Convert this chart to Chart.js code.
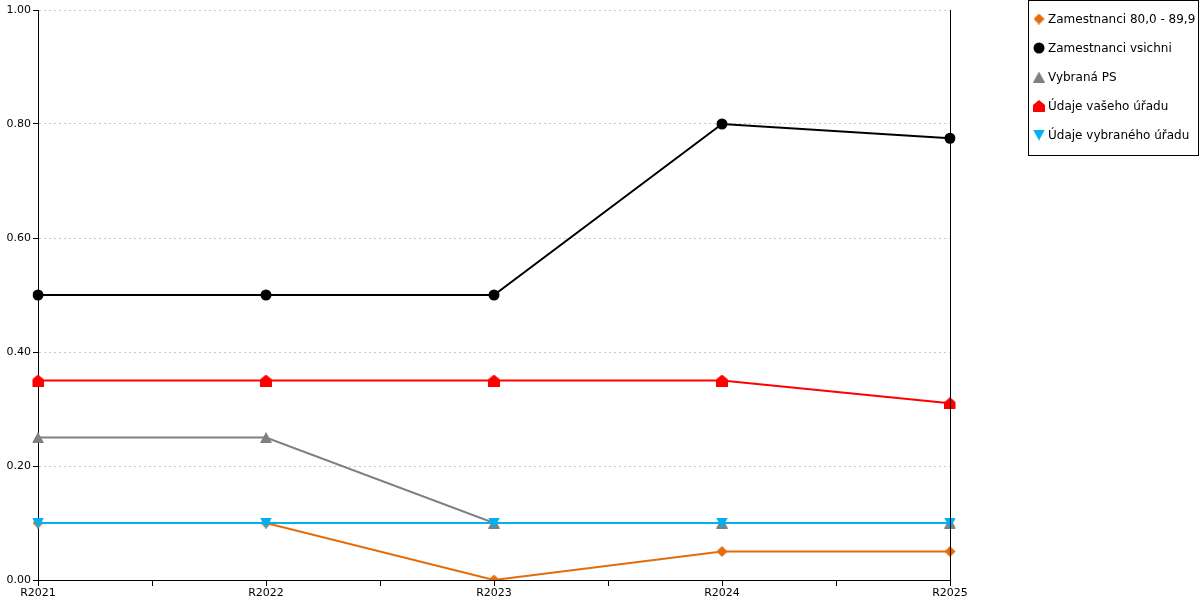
<!DOCTYPE html>
<html>
<head>
<meta charset="utf-8">
<script src="https://cdn.jsdelivr.net/npm/chart.js@4"></script>
<style>
  html, body { margin: 0; padding: 0; background: #fff; }
  #wrap { width: 1200px; height: 600px; }
</style>
</head>
<body>
<div id="wrap"><canvas id="graf"></canvas></div>
<script>
// data
const roky = ['R2021', 'R2022', 'R2023', 'R2024', 'R2025'];
const zam8090 = [0.10, 0.10, 0.00, 0.05, 0.05];
const zamVsichni = [0.50, 0.50, 0.50, 0.80, 0.775];
const vybranaPS = [0.25, 0.25, 0.10, 0.10, 0.10];
const vasUrad = [0.35, 0.35, 0.35, 0.35, 0.31];
const vybranyUrad = [0.10, 0.10, 0.10, 0.10, 0.10];

const FONT = 'DejaVu Sans';

// marker shapes as small canvases (points given in a w x h box)
function znacka(color, w, h, body) {
    const c = document.createElement('canvas');
    c.width = w; c.height = h;
    const g = c.getContext('2d');
    g.fillStyle = color;
    g.beginPath();
    body.forEach((p, i) => i ? g.lineTo(p[0], p[1]) : g.moveTo(p[0], p[1]));
    g.closePath();
    g.fill();
    return c;
}

const kosoctverec = znacka('#E46C0A', 11, 11, [[5.5, 0], [11, 5.5], [5.5, 11], [0, 5.5]]);
const trojuhelnik = znacka('#808080', 12, 11, [[6, 0], [12, 11], [0, 11]]);
const domecek = znacka('#FF0000', 12, 12, [[6, 0], [12, 5], [12, 12], [0, 12], [0, 5]]);
const dolu = znacka('#00B0F0', 12, 11, [[0, 0], [12, 0], [6, 11]]);

const serie = [
    { label: 'Zamestnanci 80,0 - 89,9', data: zam8090, color: '#E46C0A', style: kosoctverec, order: 5 },
    { label: 'Zamestnanci vsichni', data: zamVsichni, color: '#000000', style: 'circle', order: 4 },
    { label: 'Vybraná PS', data: vybranaPS, color: '#808080', style: trojuhelnik, order: 3 },
    { label: 'Údaje vašeho úřadu', data: vasUrad, color: '#FF0000', style: domecek, order: 2 },
    { label: 'Údaje vybraného úřadu', data: vybranyUrad, color: '#00B0F0', style: dolu, order: 1 }
];

// tick marks on the x axis + right border line
const osyPlugin = {
    id: 'osy',
    afterDatasetsDraw(chart) {
        const ctx = chart.ctx;
        const x = chart.scales.x;
        const a = chart.chartArea;
        ctx.save();
        ctx.strokeStyle = '#000';
        ctx.lineWidth = 1;
        ctx.beginPath();
        for (let i = 0; i < roky.length; i++) {
            const px = Math.round(x.getPixelForValue(i)) + 0.5;
            ctx.moveTo(px, a.bottom);
            ctx.lineTo(px, a.bottom + 6);
            if (i < roky.length - 1) {
                const pm = Math.round((x.getPixelForValue(i) + x.getPixelForValue(i + 1)) / 2) + 0.5;
                ctx.moveTo(pm, a.bottom);
                ctx.lineTo(pm, a.bottom + 6);
            }
        }
        ctx.moveTo(Math.round(a.right) + 0.5, a.top);
        ctx.lineTo(Math.round(a.right) + 0.5, a.bottom);
        ctx.stroke();
        ctx.restore();
    }
};

// legend in a box on the right
const legendaPlugin = {
    id: 'legenda',
    afterDraw(chart) {
        const ctx = chart.ctx;
        const bx = 1028.5, by = 0.5, bw = 170, bh = 155;
        ctx.save();
        ctx.fillStyle = '#fff';
        ctx.fillRect(bx, by, bw, bh);
        ctx.strokeStyle = '#000';
        ctx.lineWidth = 1;
        ctx.strokeRect(bx, by, bw, bh);
        ctx.font = '12px "' + FONT + '"';
        ctx.textBaseline = 'middle';
        serie.forEach((s, i) => {
            const y = 19 + i * 29;
            ctx.fillStyle = s.color;
            Chart.helpers.drawPoint(ctx, { pointStyle: s.style, radius: 5.5, rotation: 0, borderWidth: 0 }, 1039, y);
            ctx.fillStyle = '#000';
            ctx.fillText(s.label, 1048, y + 1);
        });
        ctx.restore();
    }
};

new Chart(document.getElementById('graf'), {
    type: 'line',
    data: {
        labels: roky,
        datasets: serie.map(s => ({
            label: s.label,
            data: s.data,
            borderColor: s.color,
            backgroundColor: s.color,
            borderWidth: 2,
            pointStyle: s.style,
            pointRadius: 5.5,
            pointBorderWidth: 0,
            tension: 0,
            fill: false,
            order: s.order
        }))
    },
    options: {
        responsive: true,
        maintainAspectRatio: false,
        animation: false,
        layout: { padding: { top: 10, right: 250, left: 0, bottom: 0 } },
        plugins: {
            legend: { display: false },
            tooltip: { enabled: false }
        },
        scales: {
            x: {
                offset: false,
                grid: { drawOnChartArea: false, drawTicks: false, color: '#000' },
                border: { display: true, color: '#000', width: 1 },
                ticks: { color: '#000', font: { family: FONT, size: 11 }, padding: 7, maxRotation: 0 },
                afterFit: (s) => { s.height = 20; }
            },
            y: {
                min: 0,
                max: 1,
                ticks: {
                    stepSize: 0.2,
                    color: '#000',
                    font: { family: FONT, size: 11 },
                    padding: 2,
                    callback: (v) => Number(v).toFixed(2)
                },
                grid: { color: '#c8c8c8', tickColor: '#000', tickLength: 5, tickBorderDash: [] },
                border: { display: true, color: '#000', width: 1, dash: [2, 3] },
                afterFit: (s) => { s.width = 38; }
            }
        }
    },
    plugins: [osyPlugin, legendaPlugin]
});
</script>
</body>
</html>
